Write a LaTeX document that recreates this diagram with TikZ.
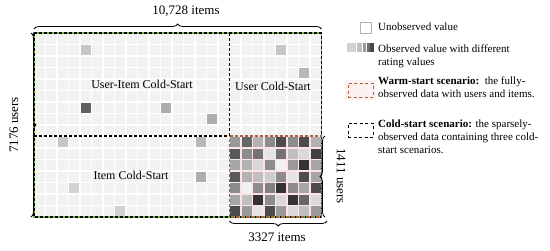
\documentclass[tikz,border=0pt]{standalone}
\usepackage{fontspec}
\setmainfont{Liberation Serif}
\usetikzlibrary{decorations.pathreplacing}
\definecolor{cellgray}{RGB}{242,242,242}
\definecolor{mgreen}{RGB}{125,185,70}
\definecolor{wbrown}{RGB}{170,100,60}
\definecolor{wpink}{RGB}{250,228,230}

\begin{document}
\begin{tikzpicture}[
  x=1pt,y=-1pt,
  every node/.style={font=\fontsize{11}{13}\selectfont},
  cell/.style={fill=cellgray},
  coldbox/.style={draw=black,dash pattern=on 3pt off 2pt,line width=1.4pt},
  warmbox/.style={draw=wbrown,dash pattern=on 3pt off 2pt,dash phase=2.5pt,line width=1.4pt},
  brc/.style={decorate,decoration={brace,amplitude=5pt},thick},
  dimlbl/.style={font=\fontsize{13}{15}\selectfont},
  reglbl/.style={font=\fontsize{12}{14}\selectfont},
  legtxt/.style={anchor=north west,align=left,inner sep=0pt},
  keybox/.style={minimum width=25pt,minimum height=14pt,inner sep=0pt,line width=0.9pt,
                 dash pattern=on 3pt off 2.5pt},
]
  \useasboundingbox (0,0) rectangle (550,250);

  % rating matrix
  \fill[white] (34,33) rectangle (321.5,217);
  \fill[wpink] (229.5,136) rectangle (321.5,217);
  \foreach \c in {0,...,24}
    \foreach \r in {0,...,15}
      \fill[cell] (34+11.5*\c+0.6,33+11.5*\r+0.6) rectangle ++(10.3,10.3);

  % sparse observed values
  \foreach \c/\r/\k in {4/1/22,4/6/62,11/6/32,15/7/32,21/1/22,23/3/28,
                        2/9/22,14/9/28,14/12/32,3/13/18,7/15/18}
    \fill[black!\k] (34+11.5*\c+0.6,33+11.5*\r+0.6) rectangle ++(10.3,10.3);

  % warm-start block
  \foreach \vals [count=\r from 9] in {{40,60,30,45,70,45,70,30},
                                      {65,45,55,10,55,25,15,75},
                                      {35,30,15,45,5,40,80,35},
                                      {65,30,25,20,45,10,70,35},
                                      {45,5,45,50,80,45,35,70},
                                      {35,25,80,45,15,80,60,15},
                                      {70,40,10,70,40,15,25,40}}
    \foreach \k [count=\c from 17] in \vals
      \fill[black!\k] (34+11.5*\c+0.6,33+11.5*\r+0.6) rectangle ++(10.3,10.3);

  % scenario borders
  \draw[mgreen,line width=1.4pt] (34,33) rectangle (321.5,217);
  \draw[coldbox] (34,33) rectangle (321.5,217);
  \draw[coldbox] (229.5,33) -- (229.5,136);
  \draw[coldbox] (34,136) -- (229.5,136);
  \draw[coldbox] (229.5,136) -- (321.5,136);
  \draw[warmbox] (229.5,136) rectangle (321.5,217);

  \node[reglbl] (uicold) at (142,84) {User-Item Cold-Start};
  \node[reglbl] (ucold) at (273,86) {User Cold-Start};
  \node[reglbl] (icold) at (131,175) {Item Cold-Start};

  % braces
  \draw[brc] (34,29) -- (321.5,29);
  \draw[brc] (31,33) -- (31,217);
  \draw[brc] (325,217) -- (325,136);
  \draw[brc] (327,221) -- (229.5,221);

  \node[dimlbl] (allitems) at (186,11) {10,728 items};
  \node[dimlbl,rotate=90] (allusers) at (14,125) {7176 users};
  \node[dimlbl,rotate=-90] (warmusers) at (341,176) {1411 users};
  \node[dimlbl] (warmitems) at (277,237) {3327 items};

  % legend
  \node[draw=black!30,line width=0.6pt,minimum size=11pt,inner sep=0pt] (unobkey) at (366,28) {};
  \node[legtxt] (unobtxt) at (378,23) {Unobserved value};

  \fill[black!18] (347,43) rectangle (356,52);
  \fill[black!25] (357,43) rectangle (361.5,52);
  \fill[black!40] (362.5,43) rectangle (366,52);
  \fill[black!58] (366.8,43) rectangle (369.6,52);
  \fill[black!72] (370.4,43) rectangle (373.5,52);
  \node[legtxt] (obstxt) at (378,45) {Observed value with different\\rating values};

  \fill[wpink!55] (345,80) rectangle (376,100);
  \node[keybox,draw=wbrown] (warmkey) at (360.5,90) {};
  \node[legtxt] (warmtxt) at (378,77)
    {\textbf{Warm-start scenario:}\ \ the fully-\\observed data with users and items.};

  \node[keybox,draw=black] (coldkey) at (360.5,130) {};
  \node[legtxt] (coldtxt) at (378,120)
    {\textbf{Cold-start scenario:} the sparsely-\\observed data containing three cold-\\start scenarios.};
\end{tikzpicture}
\end{document}
